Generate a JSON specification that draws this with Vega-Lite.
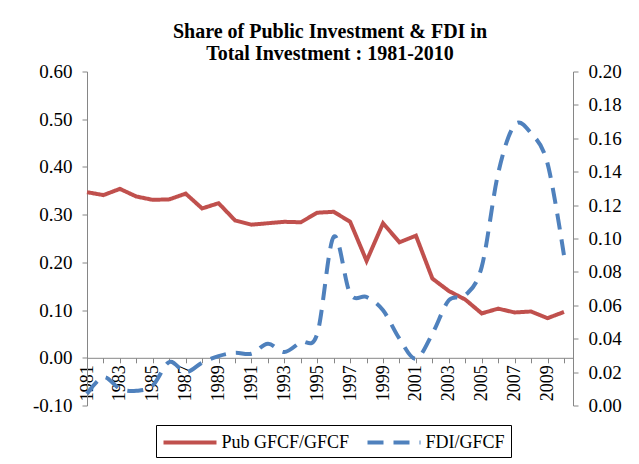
{
  "$schema": "https://vega.github.io/schema/vega-lite/v6.json",
  "width": 486,
  "height": 334,
  "autosize": {"type": "none"},
  "padding": {"left": 87, "top": 71.5, "right": 66, "bottom": 58.5},
  "background": "white",
  "title": {
    "text": ["Share of Public Investment & FDI in", "Total Investment : 1981-2010"],
    "font": "Liberation Serif",
    "fontSize": 20,
    "fontWeight": "bold",
    "color": "black",
    "anchor": "middle",
    "offset": -1,
    "lineHeight": 22
  },
  "config": {
    "font": "Liberation Serif",
    "view": {"stroke": null}
  },
  "data": {
    "values": [
      {"year": 1981, "series": "Pub GFCF/GFCF", "value": 0.347},
      {"year": 1982, "series": "Pub GFCF/GFCF", "value": 0.341},
      {"year": 1983, "series": "Pub GFCF/GFCF", "value": 0.354},
      {"year": 1984, "series": "Pub GFCF/GFCF", "value": 0.338},
      {"year": 1985, "series": "Pub GFCF/GFCF", "value": 0.331},
      {"year": 1986, "series": "Pub GFCF/GFCF", "value": 0.332},
      {"year": 1987, "series": "Pub GFCF/GFCF", "value": 0.344},
      {"year": 1988, "series": "Pub GFCF/GFCF", "value": 0.313},
      {"year": 1989, "series": "Pub GFCF/GFCF", "value": 0.324},
      {"year": 1990, "series": "Pub GFCF/GFCF", "value": 0.288},
      {"year": 1991, "series": "Pub GFCF/GFCF", "value": 0.279},
      {"year": 1992, "series": "Pub GFCF/GFCF", "value": 0.282},
      {"year": 1993, "series": "Pub GFCF/GFCF", "value": 0.285},
      {"year": 1994, "series": "Pub GFCF/GFCF", "value": 0.284},
      {"year": 1995, "series": "Pub GFCF/GFCF", "value": 0.304},
      {"year": 1996, "series": "Pub GFCF/GFCF", "value": 0.306},
      {"year": 1997, "series": "Pub GFCF/GFCF", "value": 0.285},
      {"year": 1998, "series": "Pub GFCF/GFCF", "value": 0.203},
      {"year": 1999, "series": "Pub GFCF/GFCF", "value": 0.282},
      {"year": 2000, "series": "Pub GFCF/GFCF", "value": 0.242},
      {"year": 2001, "series": "Pub GFCF/GFCF", "value": 0.256},
      {"year": 2002, "series": "Pub GFCF/GFCF", "value": 0.166},
      {"year": 2003, "series": "Pub GFCF/GFCF", "value": 0.140},
      {"year": 2004, "series": "Pub GFCF/GFCF", "value": 0.122},
      {"year": 2005, "series": "Pub GFCF/GFCF", "value": 0.093},
      {"year": 2006, "series": "Pub GFCF/GFCF", "value": 0.103},
      {"year": 2007, "series": "Pub GFCF/GFCF", "value": 0.095},
      {"year": 2008, "series": "Pub GFCF/GFCF", "value": 0.097},
      {"year": 2009, "series": "Pub GFCF/GFCF", "value": 0.083},
      {"year": 2010, "series": "Pub GFCF/GFCF", "value": 0.096},
      {"year": 1981, "series": "FDI/GFCF", "value": 0.007},
      {"year": 1982, "series": "FDI/GFCF", "value": 0.017},
      {"year": 1983, "series": "FDI/GFCF", "value": 0.010},
      {"year": 1984, "series": "FDI/GFCF", "value": 0.0088},
      {"year": 1985, "series": "FDI/GFCF", "value": 0.012},
      {"year": 1986, "series": "FDI/GFCF", "value": 0.026},
      {"year": 1987, "series": "FDI/GFCF", "value": 0.020},
      {"year": 1988, "series": "FDI/GFCF", "value": 0.0256},
      {"year": 1989, "series": "FDI/GFCF", "value": 0.0296},
      {"year": 1990, "series": "FDI/GFCF", "value": 0.0316},
      {"year": 1991, "series": "FDI/GFCF", "value": 0.031},
      {"year": 1992, "series": "FDI/GFCF", "value": 0.037},
      {"year": 1993, "series": "FDI/GFCF", "value": 0.032},
      {"year": 1994, "series": "FDI/GFCF", "value": 0.038},
      {"year": 1995, "series": "FDI/GFCF", "value": 0.043},
      {"year": 1996, "series": "FDI/GFCF", "value": 0.101},
      {"year": 1997, "series": "FDI/GFCF", "value": 0.067},
      {"year": 1998, "series": "FDI/GFCF", "value": 0.065},
      {"year": 1999, "series": "FDI/GFCF", "value": 0.057},
      {"year": 2000, "series": "FDI/GFCF", "value": 0.040},
      {"year": 2001, "series": "FDI/GFCF", "value": 0.028},
      {"year": 2002, "series": "FDI/GFCF", "value": 0.043},
      {"year": 2003, "series": "FDI/GFCF", "value": 0.063},
      {"year": 2004, "series": "FDI/GFCF", "value": 0.066},
      {"year": 2005, "series": "FDI/GFCF", "value": 0.083},
      {"year": 2006, "series": "FDI/GFCF", "value": 0.139},
      {"year": 2007, "series": "FDI/GFCF", "value": 0.168},
      {"year": 2008, "series": "FDI/GFCF", "value": 0.163},
      {"year": 2009, "series": "FDI/GFCF", "value": 0.145},
      {"year": 2010, "series": "FDI/GFCF", "value": 0.090}
    ]
  },
  "encoding": {
    "x": {
      "field": "year",
      "type": "quantitative",
      "scale": {"domain": [1981, 2010.55], "nice": false, "zero": false},
      "axis": {
        "values": [1981,1982,1983,1984,1985,1986,1987,1988,1989,1990,1991,1992,1993,1994,1995,1996,1997,1998,1999,2000,2001,2002,2003,2004,2005,2006,2007,2008,2009,2010],
        "format": "d",
        "labelExpr": "datum.value % 2 == 1 ? datum.label : ''",
        "labelAngle": -90,
        "labelFont": "Liberation Serif",
        "labelFontSize": 18,
        "labelColor": "black",
        "labelPadding": 2,
        "tickSize": 5,
        "tickColor": "#868686",
        "domainColor": "#868686",
        "grid": false,
        "title": null,
        "offset": -47.7,
        "labelOverlap": false,
        "labelBound": false,
        "labelFlush": false
      }
    },
    "color": {
      "field": "series",
      "type": "nominal",
      "scale": {"domain": ["Pub GFCF/GFCF", "FDI/GFCF"], "range": ["#C0504D", "#4F81BD"]},
      "legend": {
        "title": null,
        "orient": "none",
        "legendX": 69,
        "legendY": 353.5,
        "direction": "horizontal",
        "strokeColor": "black",
        "padding": 5.5,
        "symbolType": "M-1,0H4.3",
        "symbolSize": 400,
        "symbolStrokeWidth": 4,
        "labelFont": "Liberation Serif",
        "labelFontSize": 18,
        "labelColor": "black",
        "columnPadding": 10,
        "labelOffset": 36
      }
    },
    "strokeDash": {
      "field": "series",
      "type": "nominal",
      "scale": {"domain": ["Pub GFCF/GFCF", "FDI/GFCF"], "range": [[1, 0], [16, 10]]},
      "legend": {
        "title": null,
        "orient": "none",
        "legendX": 69,
        "legendY": 353.5,
        "direction": "horizontal",
        "strokeColor": "black",
        "padding": 5.5,
        "symbolType": "M-1,0H4.3",
        "symbolSize": 400,
        "symbolStrokeWidth": 4,
        "labelFont": "Liberation Serif",
        "labelFontSize": 18,
        "labelColor": "black",
        "columnPadding": 10,
        "labelOffset": 36
      }
    }
  },
  "layer": [
    {
      "transform": [{"filter": "datum.series == 'Pub GFCF/GFCF'"}],
      "mark": {"type": "line", "strokeWidth": 4, "interpolate": "linear"},
      "encoding": {
        "y": {
          "field": "value",
          "type": "quantitative",
          "scale": {"domain": [-0.1, 0.6], "nice": false, "zero": false},
          "axis": {
            "orient": "left",
            "values": [-0.1, 0, 0.1, 0.2, 0.3, 0.4, 0.5, 0.6],
            "format": ".2f",
            "labelExpr": "replace(datum.label, '\u2212', '-')",
            "labelFont": "Liberation Serif",
            "labelFontSize": 19,
            "labelColor": "black",
            "tickSize": 5,
            "tickColor": "#868686",
            "domainColor": "#868686",
            "grid": false,
            "title": null,
            "labelPadding": 10
          }
        }
      }
    },
    {
      "transform": [{"filter": "datum.series == 'FDI/GFCF'"}],
      "mark": {"type": "line", "strokeWidth": 4, "interpolate": "cardinal"},
      "encoding": {
        "y": {
          "field": "value",
          "type": "quantitative",
          "scale": {"domain": [0, 0.2], "nice": false, "zero": false},
          "axis": {
            "orient": "right",
            "values": [0, 0.02, 0.04, 0.06, 0.08, 0.1, 0.12, 0.14, 0.16, 0.18, 0.2],
            "format": ".2f",
            "labelFont": "Liberation Serif",
            "labelFontSize": 19,
            "labelColor": "black",
            "tickSize": 5,
            "tickColor": "#868686",
            "domainColor": "#868686",
            "grid": false,
            "title": null,
            "labelPadding": 10
          }
        }
      }
    }
  ],
  "resolve": {"scale": {"y": "independent"}}
}
